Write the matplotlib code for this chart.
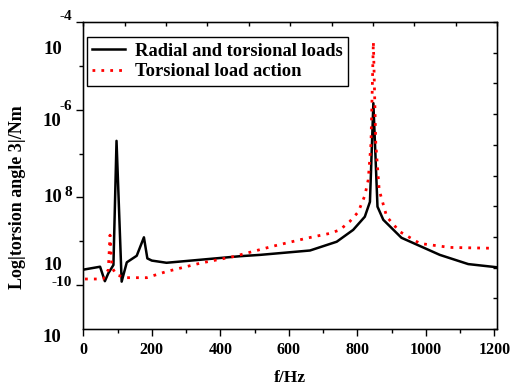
import matplotlib
matplotlib.use("Agg")
import matplotlib.pyplot as plt
import numpy as np

plt.rcParams['font.family'] = ['Liberation Serif', 'DejaVu Serif']
plt.rcParams['font.weight'] = 'bold'

# frequency (Hz) and log10 of |torsion angle|
f_radial = [5, 49, 63, 73, 88, 97, 112, 127, 156, 177, 187, 200, 243, 458, 516,
            662, 740, 788, 822, 837, 847, 859, 876, 929, 1041, 1124, 1205]
v_radial = [-9.64, -9.58, -9.91, -9.73, -9.54, -6.71, -9.92, -9.48, -9.33, -8.91,
            -9.39, -9.44, -9.49, -9.34, -9.31, -9.21, -9.01, -8.74, -8.44, -8.10,
            -5.85, -8.21, -8.51, -8.92, -9.31, -9.52, -9.59]

f_tors = [5, 58, 73, 78, 84, 97, 127, 185, 243, 341, 438, 555, 652, 720, 749, 778,
          803, 822, 832, 840, 847, 854, 864, 886, 924, 983, 1070, 1202]
v_tors = [-9.86, -9.86, -9.65, -8.86, -9.60, -9.77, -9.83, -9.83, -9.69, -9.50,
          -9.35, -9.11, -8.93, -8.82, -8.74, -8.55, -8.33, -7.96, -7.60, -6.77,
          -4.45, -6.77, -7.83, -8.44, -8.78, -9.05, -9.14, -9.16]

xticks = [0, 200, 400, 600, 800, 1000, 1200]

W, H = 515, 387
fig = plt.figure(figsize=(W / 100, H / 100), dpi=100)
ax = fig.add_axes([83.3 / W, 1 - 329 / H, (497 - 83.3) / W, (329 - 22) / H])

ax.plot(f_radial, v_radial, color='black', lw=1.8, label='Radial and torsional loads')
ax.plot(f_tors, v_tors, color='red', lw=2.0, linestyle=(0, (1, 2.2)),
        label='Torsional load action')

ax.set_xlim(0, 1208)
ax.set_ylim(-11, -4)
ax.set_xticks(xticks)
ax.set_xticks(np.arange(100, 1201, 200), minor=True)
ax.set_xticklabels([str(t) for t in xticks], fontsize=11.5, fontweight='bold')
ax.set_yticks([-4, -6, -8, -10])
ax.set_yticks([-5, -7, -9], minor=True)
ax.set_yticklabels([])
ax.tick_params(axis='both', which='major', length=5, width=1, direction='out', pad=4)
ax.tick_params(axis='both', which='minor', length=3, width=1, direction='out')
ax.tick_params(top=False, right=False)
for s in ax.spines.values():
    s.set_linewidth(1.0)

# opposite axes with their own inward ticks
axt = ax.twiny()
axt.set_xlim(0, 10)
axt.set_xticks(np.arange(0, 11, 2))
axt.set_xticks(np.arange(1, 10, 2), minor=True)
axt.set_xticklabels([])
axt.tick_params(axis='x', which='both', direction='in', length=3, width=1)
axr = ax.twinx()
axr.set_ylim(0, 10)
axr.set_yticks(np.arange(0, 11, 1))
axr.set_yticklabels([])
axr.tick_params(axis='y', which='both', direction='in', length=3, width=1)

# y tick labels drawn as in the original (misaligned 10 / exponent)
def px(x, y, s, size=13.5):
    fig.text(x / W, 1 - y / H, s, ha='center', va='center', fontsize=size,
             fontweight='bold')

px(66, 17, '-4', 11)
px(53, 50, '10')
px(66, 106, '-6', 11)
px(52, 122, '10')
px(53, 197, '10')
px(68, 192, '8', 11)
px(53, 265, '10')
px(62, 282, '-10', 11)
px(52, 337, '10')

ax.set_xlabel('f/Hz', fontsize=12.5, fontweight='bold', labelpad=9)
fig.text(18 / W, 1 - 197 / H, 'Log|torsion angle 3|/Nm', rotation=90,
         ha='center', va='center', fontsize=13, fontweight='bold')

leg = ax.legend(loc='upper left', bbox_to_anchor=(86.7 / W, 1 - 37 / H),
                bbox_transform=fig.transFigure, fancybox=False, framealpha=1,
                edgecolor='black', prop={'size': 13.3, 'weight': 'bold'},
                handlelength=1.8, borderpad=0.3, labelspacing=0.2,
                handletextpad=0.5, borderaxespad=0)
leg.get_frame().set_linewidth(1.0)
leg.set_zorder(5)

fig.savefig('out.png', dpi=100)
